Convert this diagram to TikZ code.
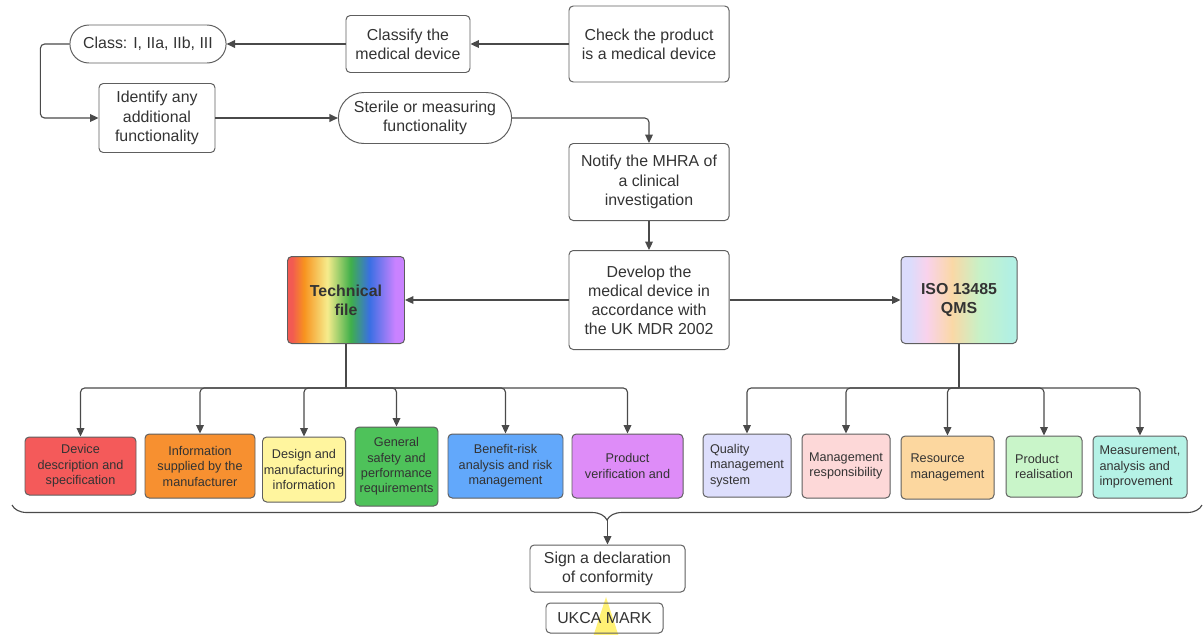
\documentclass[tikz,border=0pt]{standalone}
\usepackage{fontspec}
\setmainfont{Liberation Sans}
\usepackage{xcolor}
\usepackage{tikz}
\usetikzlibrary{arrows.meta,decorations.pathreplacing,shapes.geometric,shapes.misc,positioning,calc}

\definecolor{boxline}{HTML}{5E5E5E}
\definecolor{linegrey}{HTML}{4A4A4A}
\definecolor{textgrey}{HTML}{333333}
\definecolor{tfRed}{HTML}{F25A52}
\definecolor{tfOrange}{HTML}{F7931E}
\definecolor{tfYellow}{HTML}{F6EC8C}
\definecolor{tfGreen}{HTML}{3FAF4A}
\definecolor{tfBlue}{HTML}{3A6FE3}
\definecolor{tfPurple}{HTML}{C982FF}
\definecolor{qmLavender}{HTML}{DCDCFC}
\definecolor{qmPink}{HTML}{F9D2EC}
\definecolor{qmPeach}{HTML}{FAD8A6}
\definecolor{qmGreen}{HTML}{C6F2C8}
\definecolor{qmMint}{HTML}{B2F0E3}
\definecolor{cDevice}{HTML}{F45A5A}
\definecolor{cInfo}{HTML}{F79030}
\definecolor{cDesign}{HTML}{FFF59E}
\definecolor{cGeneral}{HTML}{4EC25A}
\definecolor{cBenefit}{HTML}{62A8FB}
\definecolor{cVerify}{HTML}{DE8CF8}
\definecolor{cQuality}{HTML}{DDDEFC}
\definecolor{cMgmt}{HTML}{FDD8D8}
\definecolor{cResource}{HTML}{FCD79F}
\definecolor{cRealise}{HTML}{C9F5C9}
\definecolor{cMeasure}{HTML}{B5F2E6}
\definecolor{starYellow}{HTML}{FFEF66}

\pgfdeclarehorizontalshading{techshade}{100bp}{color(0bp)=(tfRed); color(27bp)=(tfRed); color(32bp)=(tfOrange); color(42bp)=(tfYellow); color(52bp)=(tfGreen); color(60bp)=(tfBlue); color(71bp)=(tfPurple); color(100bp)=(tfPurple)}
\pgfdeclarehorizontalshading{qmsshade}{100bp}{color(0bp)=(qmLavender); color(29bp)=(qmLavender); color(36bp)=(qmPink); color(47bp)=(qmPeach); color(59bp)=(qmGreen); color(72bp)=(qmMint); color(100bp)=(qmMint)}

\newcommand{\stepfont}{\fontsize{11.3}{13.6}\selectfont}
\newcommand{\partfont}{\fontsize{9}{11}\selectfont}

\tikzset{
  every node/.append style={text=textgrey},
  wh/.style 2 args={minimum width=#1*0.025cm, minimum height=#2*0.025cm},
  stepbox/.style={draw=boxline, line width=0.7pt, rounded corners=3pt, align=center, inner sep=1pt, font=\stepfont},
  pill/.style={draw=boxline, line width=0.7pt, rounded rectangle, align=center, inner sep=1pt, font=\stepfont},
  partbox/.style={draw=boxline, line width=0.7pt, rounded corners=3pt, align=center, inner sep=1pt, font=\partfont},
  link/.style={draw=linegrey, line width=0.8pt, -{Triangle[length=6pt,width=5.5pt]}},
  trunk/.style={draw=linegrey, line width=0.8pt}
}

\begin{document}
\begin{tikzpicture}[x=0.025cm, y=-0.025cm]
    \useasboundingbox (0,0) rectangle (1203,634);

    % top steps
    \node[stepbox, wh={160}{76}] at (649,44) (check) {Check the product\\is a medical device};
    \node[stepbox, wh={124}{57}] at (408,44) (classify) {Classify the\\medical device};
    \node[pill, wh={159}{38}] at (148,44) (class) {Class: I, IIa, IIb, III};
    \node[stepbox, wh={116}{69}] at (157,118) (identify) {Identify any\\additional\\functionality};
    \node[pill, wh={176}{51}] at (425,118) (sterile) {Sterile or measuring\\functionality};
    \node[stepbox, wh={160}{77}] at (649,182) (notify) {Notify the MHRA of\\a clinical\\investigation};
    \node[stepbox, wh={160}{99}] at (649,300) (develop) {Develop the\\medical device in\\accordance with\\the UK MDR 2002};
    \node[stepbox, shading=techshade, wh={117}{87}, font=\stepfont\bfseries] at (346,300) (techfile) {Technical\\file};
    \node[stepbox, shading=qmsshade, wh={116}{87}, font=\stepfont\bfseries] at (959,300) (isoqms) {ISO 13485\\QMS};

    % technical file parts
    \node[partbox, fill=cDevice, wh={111}{58}] at (80.5,466) (devdesc) {Device\\description and\\specification};
    \node[partbox, fill=cInfo, wh={110}{64}] at (200,466) (infosup) {Information\\supplied by the\\manufacturer};
    \node[partbox, fill=cDesign, wh={82}{65}] at (304,469.5) (designinfo) {Design and\\manufacturing\\information};
    \node[partbox, fill=cGeneral, wh={83}{79}] at (396.5,466.5) (safety) {General\\safety and\\performance\\requirements};
    \node[partbox, fill=cBenefit, wh={115}{64}] at (505.5,466) (benefit) {Benefit-risk\\analysis and risk\\management};
    \node[partbox, fill=cVerify, wh={111}{64}] at (627.5,466) (verify) {Product\\verification and};

    % QMS parts
    \node[partbox, fill=cQuality, wh={88}{63}, align=left] at (747,465.5) (quality) {Quality\\management\\system};
    \node[partbox, fill=cMgmt, wh={88}{64}] at (846,466) (mgmtresp) {Management\\responsibility};
    \node[partbox, fill=cResource, wh={93}{63}, align=left] at (947.5,467.5) (resource) {Resource\\management};
    \node[partbox, fill=cRealise, wh={76}{61}, align=left] at (1044,466.5) (realise) {Product\\realisation};
    \node[partbox, fill=cMeasure, wh={94}{62}, align=left] at (1140,467) (measure) {Measurement,\\analysis and\\improvement};

    % conformity
    \node[stepbox, wh={155}{47}] at (607.5,568.5) (declare) {Sign a declaration\\of conformity};
    \node[star, star points=5, star point ratio=2.618, minimum size=3cm, inner sep=0pt, fill=starYellow, fill opacity=0.9, draw=none] at (606,657) (ukstar) {};
    \node[stepbox, wh={117}{30}] at (604.5,618) (ukca) {UKCA MARK};

    \coordinate (techbus) at (346,388);
    \coordinate (qmsbus) at (959,388);
    \coordinate (braceR) at (1202,505);
    \coordinate (braceL) at (12,505);
    \coordinate (bracetip) at (607.5,520);

    \draw[link] (check.west) -- (classify.east);
    \draw[link] (classify.west) -- (class.east);
    \draw[link, rounded corners=3pt] (class.west) -- ++(-29,0) |- (identify.west);
    \draw[link] (identify.east) -- (sterile.west);
    \draw[link, rounded corners=3pt] (sterile.east) -| (notify.north);
    \draw[link] (notify.south) -- (develop.north);
    \draw[link] (develop.west) -- (techfile.east);
    \draw[link] (develop.east) -- (isoqms.west);

    \draw[trunk] (techfile.south) -- (techbus);
    \draw[link, rounded corners=3pt] (techbus) -| (devdesc.north);
    \draw[link, rounded corners=3pt] (techbus) -| (infosup.north);
    \draw[link, rounded corners=3pt] (techbus) -| (designinfo.north);
    \draw[link, rounded corners=3pt] (techbus) -| (safety.north);
    \draw[link, rounded corners=3pt] (techbus) -| (benefit.north);
    \draw[link, rounded corners=3pt] (techbus) -| (verify.north);

    \draw[trunk] (isoqms.south) -- (qmsbus);
    \draw[link, rounded corners=3pt] (qmsbus) -| (quality.north);
    \draw[link, rounded corners=3pt] (qmsbus) -| (mgmtresp.north);
    \draw[link, rounded corners=3pt] (qmsbus) -| (resource.north);
    \draw[link, rounded corners=3pt] (qmsbus) -| (realise.north);
    \draw[link, rounded corners=3pt] (qmsbus) -| (measure.north);

    \draw[trunk, decorate, decoration={brace, amplitude=0.375cm}] (braceR) -- (braceL);
    \draw[link] (bracetip) -- (declare.north);
\end{tikzpicture}
\end{document}
